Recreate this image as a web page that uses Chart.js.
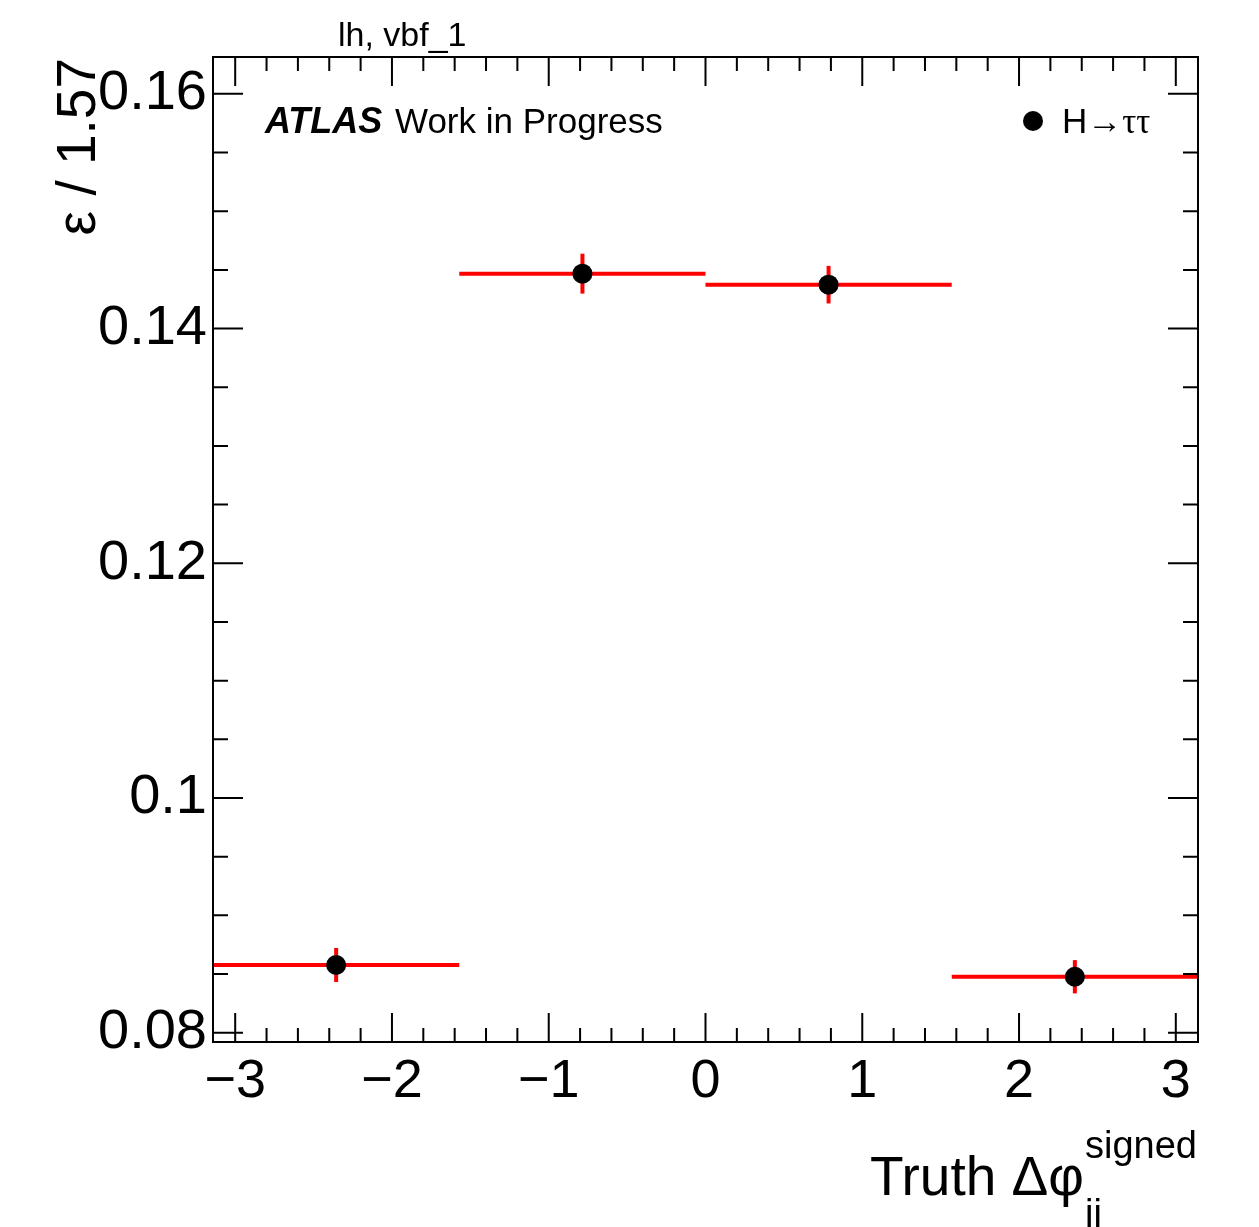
<!DOCTYPE html>
<html>
<head>
<meta charset="utf-8">
<script src="https://cdn.jsdelivr.net/npm/chart.js@4.4.1/dist/chart.umd.min.js"></script>
<style>
  html, body { margin: 0; padding: 0; background: #fff; }
  #wrap { width: 1259px; height: 1227px; }
</style>
</head>
<body>
<div id="wrap"><canvas id="eff" width="1259" height="1227"></canvas></div>
<script>
// bins in truth delta-phi (signed), width pi/2
const binLow = [-Math.PI, -Math.PI / 2, 0, Math.PI / 2];
const binHigh = [-Math.PI / 2, 0, Math.PI / 2, Math.PI];
const binCenter = [-2.356, -0.785, 0.785, 2.356];
const effValues = [0.08577, 0.14468, 0.14374, 0.08477];
const effErrors = [0.00145, 0.0017, 0.0016, 0.00142];

const xTicks = [-3, -2, -1, 0, 1, 2, 3];
const xTickLabels = ['\u22123', '\u22122', '\u22121', '0', '1', '2', '3'];
const yTicks = [0.08, 0.1, 0.12, 0.14, 0.16];
const yTickLabels = ['0.08', '0.1', '0.12', '0.14', '0.16'];

const xMin = -Math.PI, xMax = Math.PI;
const yMin = 0.07921, yMax = 0.16314;

const FONT = '"Liberation Sans", Arial, Helvetica, sans-serif';
const RED = '#ff0000';

const datasets = [];
datasets.push({
  label: 'H\u2192\u03c4\u03c4',
  data: binCenter.map((x, i) => ({ x: x, y: effValues[i] })),
  showLine: false,
  pointRadius: 10,
  pointHoverRadius: 10,
  pointBackgroundColor: '#000',
  pointBorderWidth: 0
});
effValues.forEach(function(v, i) {
  datasets.push({
    data: [{ x: binCenter[i], y: v - effErrors[i] }, { x: binCenter[i], y: v + effErrors[i] }],
    showLine: true,
    borderColor: RED,
    borderWidth: 4,
    pointRadius: 0,
    borderCapStyle: 'butt'
  });
  datasets.push({
    data: [{ x: binLow[i], y: v }, { x: binHigh[i], y: v }],
    showLine: true,
    borderColor: RED,
    borderWidth: 4,
    pointRadius: 0,
    borderCapStyle: 'butt'
  });
});

// ROOT style frame with inward ticks on all four sides
const frame = {
  id: 'frame',
  afterDatasetsDraw(chart) {
    const c = chart.ctx;
    const xs = chart.scales.x, ys = chart.scales.y;
    const a = chart.chartArea;
    c.save();
    c.strokeStyle = '#000';
    c.lineWidth = 2;
    c.strokeRect(a.left, a.top, a.right - a.left, a.bottom - a.top);

    c.beginPath();
    for (let k = -16; k <= 16; k++) {
      const v = k * 0.2;
      if (v < xMin || v > xMax) continue;
      const px = xs.getPixelForValue(v);
      const len = (k % 5 === 0) ? 29 : 14;
      c.moveTo(px, a.bottom); c.lineTo(px, a.bottom - len);
      c.moveTo(px, a.top); c.lineTo(px, a.top + len);
    }
    for (let k = 15; k <= 33; k++) {
      const v = k * 0.005;
      if (v < yMin || v > yMax) continue;
      const py = ys.getPixelForValue(v);
      const len = (k % 4 === 0) ? 30 : 15;
      c.moveTo(a.left, py); c.lineTo(a.left + len, py);
      c.moveTo(a.right, py); c.lineTo(a.right - len, py);
    }
    c.stroke();

    // top label
    c.fillStyle = '#000';
    c.textBaseline = 'alphabetic';
    c.textAlign = 'left';
    c.font = '34px ' + FONT;
    c.fillText('lh, vbf_1', 338, 46);

    // ATLAS label
    c.font = 'italic bold 36px ' + FONT;
    c.fillText('ATLAS', 265, 133);
    c.font = '35px ' + FONT;
    c.fillText('Work in Progress', 395, 133);

    // legend
    c.beginPath();
    c.arc(1033, 121, 10, 0, Math.PI * 2);
    c.fill();
    c.font = '35px ' + FONT;
    c.fillText('H\u2192', 1062, 133);
    const hw = c.measureText('H\u2192').width;
    c.font = '35px "Liberation Serif", serif';
    c.fillText('\u03c4\u03c4', 1062 + hw, 133);

    // x title
    c.font = '55px ' + FONT;
    c.textAlign = 'right';
    c.fillText('Truth \u0394\u03c6', 1084, 1195);
    c.textAlign = 'left';
    c.font = '38px ' + FONT;
    c.fillText('signed', 1085, 1158);
    c.fillText('jj', 1085, 1226);

    // y title
    c.save();
    c.translate(95, 58);
    c.rotate(-Math.PI / 2);
    c.textAlign = 'right';
    c.font = '55px ' + FONT;
    c.fillText('\u03b5 / 1.57', 0, 0);
    c.restore();

    c.restore();
  }
};

new Chart(document.getElementById('eff'), {
  type: 'scatter',
  data: { datasets: datasets },
  options: {
    responsive: false,
    animation: false,
    events: [],
    layout: { padding: { top: 57, right: 61, left: 0, bottom: 0 } },
    plugins: { legend: { display: false }, tooltip: { enabled: false } },
    scales: {
      x: {
        type: 'linear',
        min: xMin,
        max: xMax,
        grid: { display: false, drawTicks: false },
        border: { display: false },
        afterBuildTicks: function(axis) { axis.ticks = xTicks.map(v => ({ value: v })); },
        afterFit: function(axis) { axis.height = 185; },
        ticks: {
          autoSkip: false,
          maxRotation: 0,
          padding: 8,
          color: '#000',
          font: { family: FONT, size: 54 },
          callback: function(v) { return xTickLabels[xTicks.indexOf(v)]; }
        }
      },
      y: {
        type: 'linear',
        min: yMin,
        max: yMax,
        grid: { display: false, drawTicks: false },
        border: { display: false },
        afterBuildTicks: function(axis) { axis.ticks = yTicks.map(v => ({ value: v })); },
        afterFit: function(axis) { axis.width = 213; },
        ticks: {
          autoSkip: false,
          padding: 6,
          color: '#000',
          font: { family: FONT, size: 56 },
          callback: function(v) { return yTickLabels[yTicks.indexOf(v)]; }
        }
      }
    }
  },
  plugins: [frame]
});
</script>
</body>
</html>
